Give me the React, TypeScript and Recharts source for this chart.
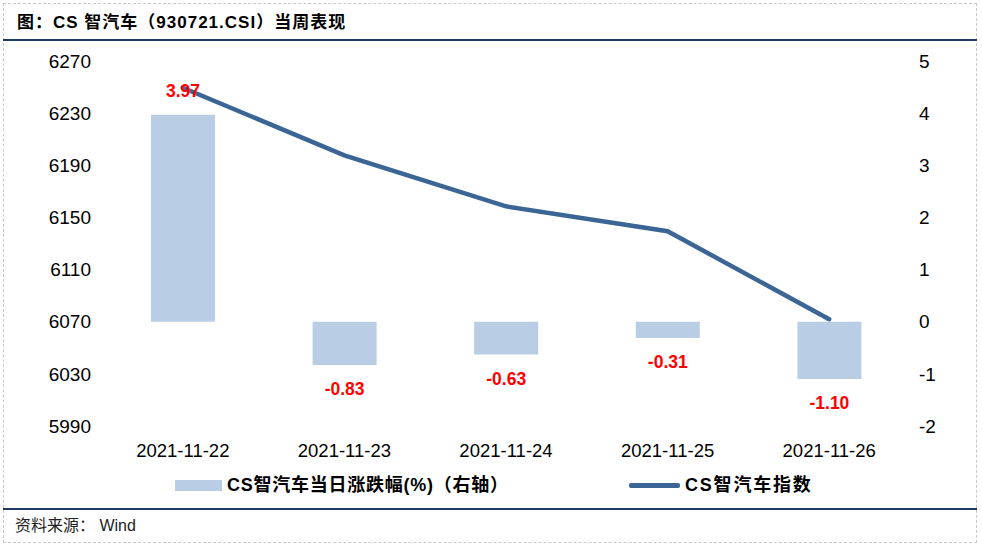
import React from 'react';
import { ComposedChart, Bar, Line, XAxis, YAxis, LabelList } from 'recharts';

const dates = ['2021-11-22', '2021-11-23', '2021-11-24', '2021-11-25', '2021-11-26'];
const dailyChange = [3.97, -0.83, -0.63, -0.31, -1.1];
const indexValues = [6249.5, 6197.6, 6158.5, 6139.4, 6071.9];
const leftTicks = [5990, 6030, 6070, 6110, 6150, 6190, 6230, 6270];
const rightTicks = [-2, -1, 0, 1, 2, 3, 4, 5];
const boundaryTicks = [0, 1, 2, 3, 4, 5];

const titleText = '图：CS 智汽车（930721.CSI）当周表现';
const barLegend = 'CS智汽车当日涨跌幅(%)（右轴）';
const lineLegend = 'CS智汽车指数';
const sourceText = '资料来源： Wind';

const data = dates.map((d, i) => ({ date: d, change: dailyChange[i], index: indexValues[i] }));

const FONT = '"Liberation Sans", Arial, "Noto Sans CJK SC", sans-serif';
const BAR_COLOR = '#B9CDE5';
const LINE_COLOR = '#3B6595';
const NAVY = '#1F3B64';

const ValueLabel = (props: any) => {
  const { x, y, width, height, value } = props;
  const top = Math.min(y, y + height);
  const bottom = Math.max(y, y + height);
  const cx = x + width / 2;
  const ty = value >= 0 ? top - 24 : bottom + 24;
  return (
    <text
      x={cx}
      y={ty}
      dy="0.355em"
      textAnchor="middle"
      fill="#FF0000"
      fontWeight="bold"
      fontSize={17.5}
      fontFamily={FONT}
    >
      {Number(value).toFixed(2)}
    </text>
  );
};

export default function App() {
  return (
    <div
      style={{
        position: 'absolute',
        left: 0,
        top: 0,
        width: 982,
        height: 549,
        background: '#fff',
        fontFamily: FONT,
        overflow: 'hidden',
      }}
    >
      <div
        style={{
          position: 'absolute',
          left: 3,
          top: 3,
          width: 974,
          height: 540,
          border: '1px dashed #C8C8C8',
          boxSizing: 'border-box',
        }}
      />
      <div
        style={{
          position: 'absolute',
          left: 17,
          top: 12,
          fontSize: 17,
          fontWeight: 'bold',
          letterSpacing: 1,
          color: '#000',
          whiteSpace: 'nowrap',
          lineHeight: '22px',
        }}
      >
        {titleText}
      </div>
      <div style={{ position: 'absolute', left: 3, top: 39, width: 974, height: 2, background: NAVY }} />
      <div style={{ position: 'absolute', left: 3, top: 508, width: 974, height: 2, background: NAVY }} />
      <div
        style={{
          position: 'absolute',
          left: 15,
          top: 516,
          fontSize: 16,
          color: '#222',
          whiteSpace: 'pre',
          lineHeight: '20px',
        }}
      >
        {sourceText}
      </div>

      <div style={{ position: 'absolute', left: 0, top: 0 }}>
        <ComposedChart
          width={982}
          height={549}
          data={data}
          margin={{ top: 61, right: 0, bottom: 93, left: 0 }}
        >
          <XAxis
            xAxisId="grid"
            type="number"
            domain={[0, 5]}
            ticks={boundaryTicks}
            tick={false}
            tickSize={7}
            tickLine={{ stroke: '#D9D9D9', strokeWidth: 2 }}
            axisLine={{ stroke: '#D9D9D9', strokeWidth: 2 }}
            height={0}
            allowDataOverflow
          />
          <XAxis
            xAxisId="cat"
            dataKey="date"
            axisLine={false}
            tickLine={false}
            tickSize={0}
            tickMargin={18}
            height={30}
            interval={0}
            tick={{ fill: '#000', fontSize: 18.5, fontFamily: FONT }}
          />
          <YAxis
            yAxisId="left"
            orientation="left"
            domain={[5990, 6270]}
            ticks={leftTicks}
            width={102}
            axisLine={false}
            tickLine={false}
            tickSize={0}
            tickMargin={11}
            interval={0}
            tick={{ fill: '#000', fontSize: 19, fontFamily: FONT }}
          />
          <YAxis
            yAxisId="right"
            orientation="right"
            domain={[-2, 5]}
            ticks={rightTicks}
            width={72}
            axisLine={false}
            tickLine={false}
            tickSize={0}
            tickMargin={9}
            interval={0}
            tick={{ fill: '#000', fontSize: 19, fontFamily: FONT }}
          />
          <Bar
            xAxisId="cat"
            yAxisId="right"
            dataKey="change"
            fill={BAR_COLOR}
            barSize={64}
            isAnimationActive={false}
          >
            <LabelList dataKey="change" content={ValueLabel} />
          </Bar>
          <Line
            xAxisId="cat"
            yAxisId="left"
            dataKey="index"
            stroke={LINE_COLOR}
            strokeWidth={4.5}
            strokeLinecap="round"
            dot={false}
            isAnimationActive={false}
          />
        </ComposedChart>
      </div>

      <div
        style={{
          position: 'absolute',
          left: 175,
          top: 480,
          width: 47,
          height: 11,
          background: BAR_COLOR,
        }}
      />
      <div
        style={{
          position: 'absolute',
          left: 227,
          top: 474,
          fontSize: 18,
          fontWeight: 'bold',
          letterSpacing: 0.75,
          whiteSpace: 'nowrap',
          lineHeight: '22px',
          color: '#000',
        }}
      >
        {barLegend}
      </div>
      <div
        style={{
          position: 'absolute',
          left: 629,
          top: 483,
          width: 51,
          height: 4.5,
          borderRadius: 2,
          background: LINE_COLOR,
        }}
      />
      <div
        style={{
          position: 'absolute',
          left: 685,
          top: 474,
          fontSize: 18,
          fontWeight: 'bold',
          letterSpacing: 1.8,
          whiteSpace: 'nowrap',
          lineHeight: '22px',
          color: '#000',
        }}
      >
        {lineLegend}
      </div>
    </div>
  );
}
